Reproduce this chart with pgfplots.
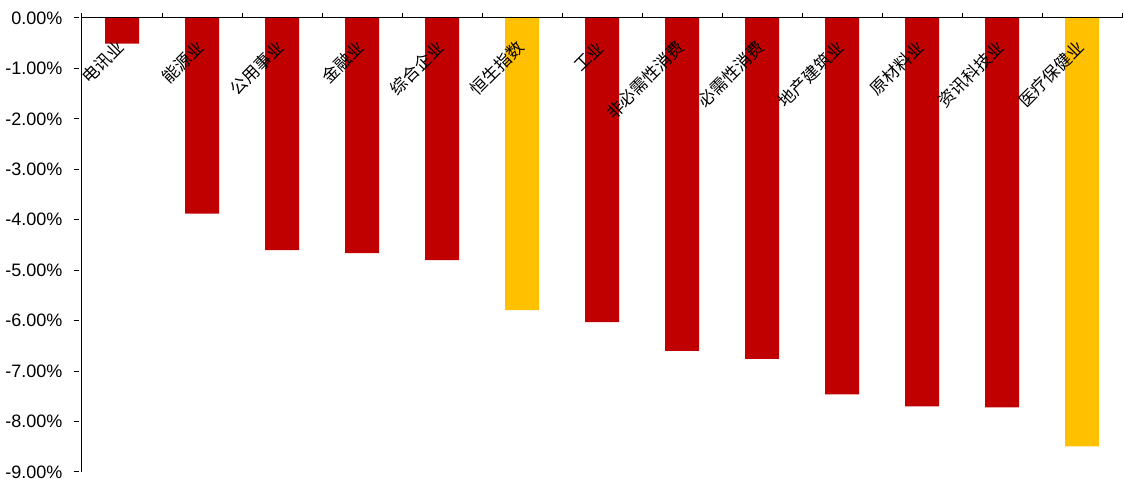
\documentclass[border=0pt]{standalone}
\usepackage{fontspec}
\setmainfont{Liberation Sans}
\newfontfamily\cjk{Noto Sans CJK SC}
\usepackage{pgfplots}
\pgfplotsset{compat=1.18}
\definecolor{barred}{HTML}{C00000}
\definecolor{baryel}{HTML}{FFC000}
\begin{document}
\begin{tikzpicture}
\begin{axis}[name=ax, scale only axis, width=780pt, height=340.5pt,
  xmin=-0.5, xmax=12.5, ymin=-9, ymax=0,
  axis on top,
  axis x line=top, axis y line=left,
  axis line style={-, line width=0.75pt, black},
  major tick length=4pt,
  every tick/.style={black, line width=0.75pt},
  ytick={-9,-8,-7,-6,-5,-4,-3,-2,-1,0},
  yticklabels={-9.00\%,-8.00\%,-7.00\%,-6.00\%,-5.00\%,-4.00\%,-3.00\%,-2.00\%,-1.00\%,0.00\%},
  ytick style={xshift=-4pt},
  yticklabel style={font=\fontsize{13.5}{15}\selectfont, inner sep=0pt, anchor=east, xshift=-12.5pt},
  xtick={-0.5,0.5,1.5,2.5,3.5,4.5,5.5,6.5,7.5,8.5,9.5,10.5,11.5,12.5},
  xticklabels={},
  extra x ticks={0,1,2,3,4,5,6,7,8,9,10,11,12},
  extra x tick labels={电讯业,能源业,公用事业,金融业,综合企业,恒生指数,工业,非必需性消费,必需性消费,地产建筑业,原材料业,资讯科技业,医疗保健业},
  extra x tick style={major tick length=0pt,
    xticklabel style={font=\cjk\fontsize{12.6}{13}\selectfont, inner sep=1pt, anchor=east, yshift=-19pt, rotate=45}},
  ybar, bar width=0.425,
]
\addplot[fill=barred, draw=none, bar shift=0pt] coordinates {
 (0,-0.51) (1,-3.88) (2,-4.60) (3,-4.66) (4,-4.80) (6,-6.03) (7,-6.60) (8,-6.76) (9,-7.46) (10,-7.70) (11,-7.72)};
\addplot[fill=baryel, draw=none, bar shift=0pt] coordinates {(5,-5.79) (12,-8.49)};
\end{axis}
\pgfresetboundingbox
\path[use as bounding box] ([xshift=-61.5pt,yshift=-7.5pt]ax.south west) rectangle ([xshift=1.5pt,yshift=13.5pt]ax.north east);
\end{tikzpicture}
\end{document}
